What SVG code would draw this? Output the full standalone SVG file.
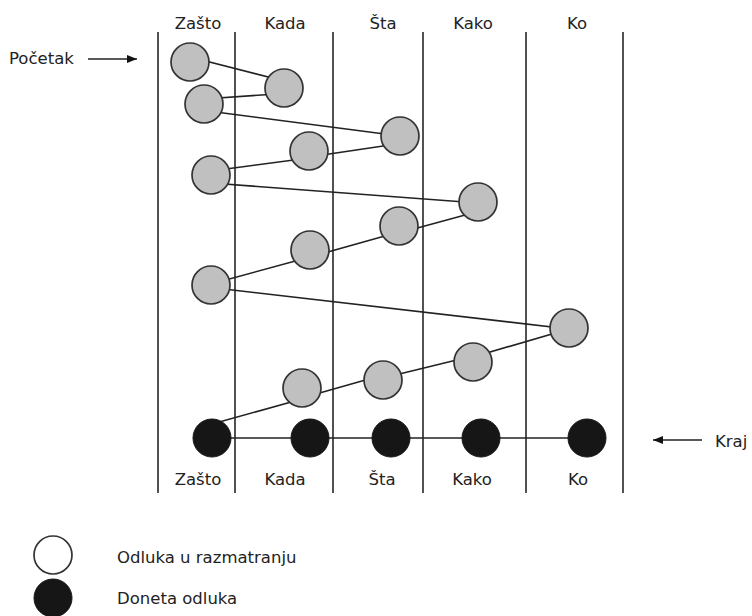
<svg xmlns="http://www.w3.org/2000/svg" width="752" height="616" viewBox="0 0 752 616">
<style>
  text { font-family: "DejaVu Sans", "Liberation Sans", sans-serif; font-size: 16.5px; fill: #222; }
  .col { stroke: #333; stroke-width: 1.7; }
  .con { stroke: #222; stroke-width: 1.6; fill: none; }
  .open { fill: #c0c0c0; stroke: #333; stroke-width: 1.7; }
  .done { fill: #161616; stroke: #161616; stroke-width: 1; }
  .mid { text-anchor: middle; }
</style>
<defs>
  <marker id="ah" viewBox="0 0 10 10" refX="10" refY="5" markerWidth="11" markerHeight="10" markerUnits="userSpaceOnUse" orient="auto">
    <path d="M0,1 L10,5 L0,9 z" fill="#111"/>
  </marker>
</defs>
<rect width="752" height="616" fill="#fff"/>

<g id="columns">
  <line class="col" x1="158" y1="32" x2="158" y2="493"/>
  <line class="col" x1="235" y1="32" x2="235" y2="493"/>
  <line class="col" x1="333" y1="32" x2="333" y2="493"/>
  <line class="col" x1="423" y1="32" x2="423" y2="493"/>
  <line class="col" x1="526" y1="32" x2="526" y2="493"/>
  <line class="col" x1="623" y1="32" x2="623" y2="493"/>
</g>

<g id="headers">
  <text class="mid" x="198" y="29">Zašto</text>
  <text class="mid" x="285" y="29">Kada</text>
  <text class="mid" x="383" y="29">Šta</text>
  <text class="mid" x="473" y="29">Kako</text>
  <text class="mid" x="577" y="29">Ko</text>
  <text class="mid" x="198" y="485">Zašto</text>
  <text class="mid" x="285" y="485">Kada</text>
  <text class="mid" x="382" y="485">Šta</text>
  <text class="mid" x="472" y="485">Kako</text>
  <text class="mid" x="578" y="485">Ko</text>
</g>

<g id="connectors">
  <line class="con" x1="190" y1="57" x2="284" y2="81"/>
  <line class="con" x1="284" y1="93.5" x2="204" y2="99"/>
  <line class="con" x1="204" y1="110.5" x2="400" y2="136"/>
  <line class="con" x1="400" y1="143.5" x2="309" y2="157"/>
  <line class="con" x1="309" y1="158" x2="211" y2="171"/>
  <line class="con" x1="211" y1="183" x2="478" y2="203"/>
  <line class="con" x1="478" y1="211.5" x2="399" y2="233"/>
  <line class="con" x1="399" y1="232" x2="310" y2="257"/>
  <line class="con" x1="310" y1="257" x2="211" y2="284"/>
  <line class="con" x1="211" y1="287.5" x2="569" y2="329"/>
  <line class="con" x1="569" y1="329" x2="473" y2="357"/>
  <line class="con" x1="473" y1="356" x2="383" y2="378"/>
  <line class="con" x1="383" y1="375" x2="302" y2="398"/>
  <line class="con" x1="302" y1="399" x2="212" y2="424"/>
  <line class="con" x1="212" y1="438" x2="587" y2="438"/>
  <line class="con" x1="88" y1="59" x2="137" y2="59" marker-end="url(#ah)"/>
  <line class="con" x1="702" y1="440" x2="653" y2="440" marker-end="url(#ah)"/>
</g>

<g id="n1"><circle class="open" cx="190" cy="62" r="19"/></g>
<g id="n2"><circle class="open" cx="284" cy="88" r="19"/></g>
<g id="n3"><circle class="open" cx="204" cy="104" r="19"/></g>
<g id="n4"><circle class="open" cx="400" cy="136" r="19"/></g>
<g id="n5"><circle class="open" cx="309" cy="151" r="19"/></g>
<g id="n6"><circle class="open" cx="211" cy="175" r="19"/></g>
<g id="n7"><circle class="open" cx="478" cy="202" r="19"/></g>
<g id="n8"><circle class="open" cx="399" cy="226" r="19"/></g>
<g id="n9"><circle class="open" cx="310" cy="250" r="19"/></g>
<g id="n10"><circle class="open" cx="211" cy="285" r="19"/></g>
<g id="n11"><circle class="open" cx="569" cy="328" r="19"/></g>
<g id="n12"><circle class="open" cx="473" cy="362" r="19"/></g>
<g id="n13"><circle class="open" cx="383" cy="380" r="19"/></g>
<g id="n14"><circle class="open" cx="302" cy="388" r="19"/></g>

<g id="d1"><circle class="done" cx="212" cy="438" r="19"/></g>
<g id="d2"><circle class="done" cx="310" cy="438" r="19"/></g>
<g id="d3"><circle class="done" cx="391" cy="438" r="19"/></g>
<g id="d4"><circle class="done" cx="481" cy="438" r="19"/></g>
<g id="d5"><circle class="done" cx="587" cy="438" r="19"/></g>

<g id="start"><text x="9" y="64">Početak</text></g>
<g id="end"><text x="715" y="447">Kraj</text></g>

<g id="legend">
  <circle cx="53" cy="555" r="19" fill="#fff" stroke="#333" stroke-width="1.7"/>
  <text x="117" y="563">Odluka u razmatranju</text>
  <circle class="done" cx="53" cy="598" r="19"/>
  <text x="117" y="604">Doneta odluka</text>
</g>
</svg>
